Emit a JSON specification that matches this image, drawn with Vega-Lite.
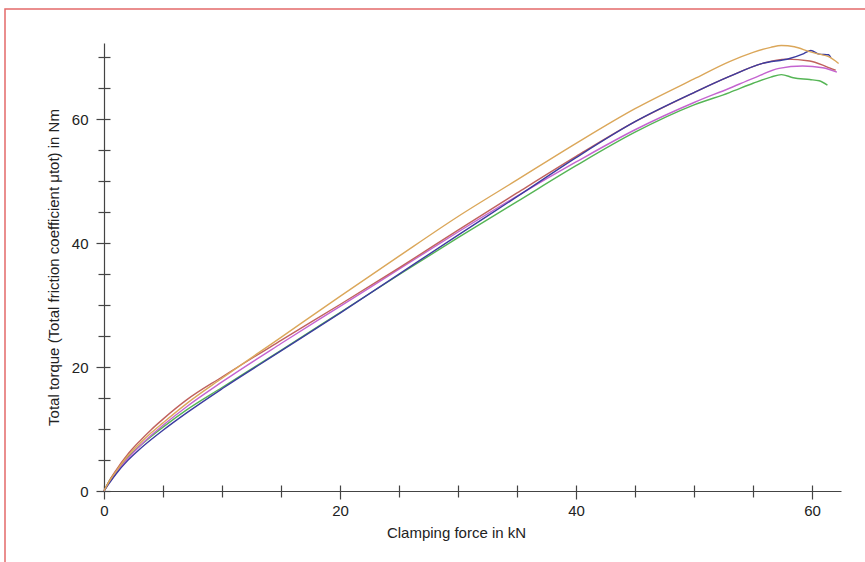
{
  "$schema": "https://vega.github.io/schema/vega-lite/v6.json",
  "autosize": "none",
  "width": 870,
  "height": 560,
  "padding": {"left": 5, "top": 9, "right": 0, "bottom": 0},
  "background": "white",
  "config": {
    "view": {"stroke": "#e36a6a", "strokeWidth": 1.5},
    "font": "Liberation Sans",
    "axis": {"grid": false, "domainColor": "#444", "tickColor": "#444", "labelColor": "#222", "titleColor": "#222", "labelFont": "Liberation Sans", "titleFont": "Liberation Sans", "labelFontSize": 15, "titleFontSize": 15, "titleFontWeight": "normal", "domainWidth": 1.2, "tickWidth": 1.2}
  },
  "data": {"values": [
    {"s":"G","x":0,"y":0},{"s":"G","x":0.5,"y":1.8},{"s":"G","x":1,"y":3.1},{"s":"G","x":2,"y":5.4},{"s":"G","x":3,"y":7.2},{"s":"G","x":4,"y":8.8},{"s":"G","x":5,"y":10.3},{"s":"G","x":7,"y":13.1},{"s":"G","x":10,"y":16.7},{"s":"G","x":15,"y":22.7},{"s":"G","x":20,"y":28.8},{"s":"G","x":25,"y":34.9},{"s":"G","x":30,"y":40.9},{"s":"G","x":35,"y":46.7},{"s":"G","x":40,"y":52.5},{"s":"G","x":45,"y":57.9},{"s":"G","x":50,"y":62.3},{"s":"G","x":53,"y":64.3},{"s":"G","x":55,"y":65.8},{"s":"G","x":56.5,"y":66.8},{"s":"G","x":57.4,"y":67.2},{"s":"G","x":58.4,"y":66.7},{"s":"G","x":59.8,"y":66.4},{"s":"G","x":60.6,"y":66.2},{"s":"G","x":61.3,"y":65.5},
    {"s":"M","x":0,"y":0},{"s":"M","x":0.5,"y":1.5},{"s":"M","x":1,"y":2.8},{"s":"M","x":2,"y":5.2},{"s":"M","x":3,"y":7.2},{"s":"M","x":4,"y":9.0},{"s":"M","x":5,"y":10.6},{"s":"M","x":7,"y":13.6},{"s":"M","x":10,"y":17.6},{"s":"M","x":15,"y":23.8},{"s":"M","x":20,"y":29.8},{"s":"M","x":25,"y":35.8},{"s":"M","x":30,"y":41.8},{"s":"M","x":35,"y":47.6},{"s":"M","x":40,"y":53.1},{"s":"M","x":45,"y":58.3},{"s":"M","x":50,"y":62.7},{"s":"M","x":53,"y":65.0},{"s":"M","x":55,"y":66.6},{"s":"M","x":57.2,"y":68.2},{"s":"M","x":59.2,"y":68.6},{"s":"M","x":60.9,"y":68.3},{"s":"M","x":62.1,"y":67.6},
    {"s":"R","x":0,"y":0},{"s":"R","x":0.5,"y":1.8},{"s":"R","x":1,"y":3.3},{"s":"R","x":2,"y":5.9},{"s":"R","x":3,"y":8.0},{"s":"R","x":4,"y":9.9},{"s":"R","x":5,"y":11.6},{"s":"R","x":7,"y":14.7},{"s":"R","x":10,"y":18.4},{"s":"R","x":15,"y":24.3},{"s":"R","x":20,"y":30.1},{"s":"R","x":25,"y":36.0},{"s":"R","x":30,"y":42.1},{"s":"R","x":35,"y":48.1},{"s":"R","x":40,"y":54.0},{"s":"R","x":45,"y":59.6},{"s":"R","x":50,"y":64.3},{"s":"R","x":53,"y":66.9},{"s":"R","x":55.8,"y":69.0},{"s":"R","x":57.8,"y":69.7},{"s":"R","x":59.8,"y":69.4},{"s":"R","x":61.2,"y":68.5},{"s":"R","x":62.0,"y":67.9},
    {"s":"B","x":0,"y":0},{"s":"B","x":0.5,"y":1.4},{"s":"B","x":1,"y":2.7},{"s":"B","x":2,"y":4.9},{"s":"B","x":3,"y":6.7},{"s":"B","x":4,"y":8.3},{"s":"B","x":5,"y":9.8},{"s":"B","x":7,"y":12.6},{"s":"B","x":10,"y":16.5},{"s":"B","x":15,"y":22.6},{"s":"B","x":20,"y":28.7},{"s":"B","x":25,"y":35.0},{"s":"B","x":30,"y":41.3},{"s":"B","x":35,"y":47.5},{"s":"B","x":40,"y":53.8},{"s":"B","x":45,"y":59.6},{"s":"B","x":50,"y":64.3},{"s":"B","x":53,"y":66.9},{"s":"B","x":55.8,"y":69.0},{"s":"B","x":58.1,"y":69.8},{"s":"B","x":59.3,"y":70.6},{"s":"B","x":59.9,"y":71.1},{"s":"B","x":60.6,"y":70.5},{"s":"B","x":61.4,"y":70.4},{"s":"B","x":61.6,"y":69.9},
    {"s":"E","x":0,"y":0},{"s":"E","x":0.5,"y":1.7},{"s":"E","x":1,"y":3.1},{"s":"E","x":2,"y":5.6},{"s":"E","x":3,"y":7.6},{"s":"E","x":4,"y":9.4},{"s":"E","x":5,"y":11.0},{"s":"E","x":7,"y":14.1},{"s":"E","x":10,"y":18.2},{"s":"E","x":15,"y":24.8},{"s":"E","x":20,"y":31.4},{"s":"E","x":25,"y":37.9},{"s":"E","x":30,"y":44.3},{"s":"E","x":35,"y":50.2},{"s":"E","x":40,"y":56.1},{"s":"E","x":45,"y":61.7},{"s":"E","x":50,"y":66.5},{"s":"E","x":53,"y":69.3},{"s":"E","x":55,"y":70.8},{"s":"E","x":56.5,"y":71.6},{"s":"E","x":57.4,"y":71.9},{"s":"E","x":58.5,"y":71.7},{"s":"E","x":59.8,"y":70.9},{"s":"E","x":60.6,"y":70.5},{"s":"E","x":61.4,"y":70.1},{"s":"E","x":62.25,"y":69.0}
  ]},
  "resolve": {"axis": {"x": "independent", "y": "independent"}},
  "layer": [
    {
      "mark": {"type": "line", "strokeWidth": 1.3, "opacity": 0},
      "encoding": {
        "x": {"field": "x", "type": "quantitative",
          "scale": {"domain": [0, 62.45], "range": [99, 836], "nice": false, "zero": false},
          "axis": {"orient": "bottom", "offset": -78, "title": null, "labels": false, "domain": false, "values": [0,5,10,15,20,25,30,35,40,45,50,55,60],
            "tickSize": -6}},
        "y": {"field": "y", "type": "quantitative",
          "scale": {"domain": [0, 72.3], "range": [482, 34], "nice": false, "zero": false},
          "axis": {"orient": "left", "offset": -99, "title": null, "labels": false, "domain": false, "values": [0,5,10,15,20,25,30,35,40,45,50,55,60,65,70],
            "tickSize": -6}},
        "detail": {"field": "s", "type": "nominal"}
      }
    },
    {
      "mark": {"type": "line", "strokeWidth": 1.4, "interpolate": "monotone"},
      "encoding": {
        "x": {"field": "x", "type": "quantitative",
          "axis": {"orient": "bottom", "offset": -78, "title": "Clamping force in kN", "values": [0,5,10,15,20,25,30,35,40,45,50,55,60],
            "labelExpr": "datum.value % 20 === 0 ? datum.label : ''",
            "tickSize": {"condition": {"test": "datum.value % 20 === 0", "value": 8}, "value": 6},
            "labelPadding": 4, "titlePadding": 7, "titleX": 451, "labelFlush": false}},
        "y": {"field": "y", "type": "quantitative",
          "axis": {"orient": "left", "offset": -99, "title": "Total torque (Total friction coefficient μtot) in Nm", "values": [0,5,10,15,20,25,30,35,40,45,50,55,60,65,70],
            "labelExpr": "datum.value % 20 === 0 ? datum.label : ''",
            "tickSize": {"condition": {"test": "datum.value % 20 === 0", "value": 8}, "value": 6},
            "labelPadding": 8, "titlePadding": 10, "labelFlush": false}},
        "color": {"field": "s", "type": "nominal", "legend": null,
          "scale": {"domain": ["G","M","R","B","E"], "range": ["#55b555","#c464d0","#c0625e","#3c3ca0","#dba75a"]}},
        "order": {"field": "x", "type": "quantitative"}
      }
    }
  ]
}
